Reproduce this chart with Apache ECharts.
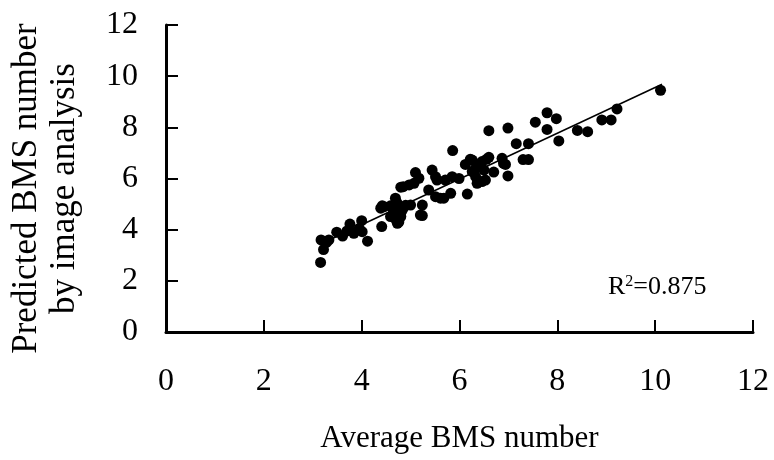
<!DOCTYPE html>
<html>
<head>
<meta charset="utf-8">
<script src="https://cdn.jsdelivr.net/npm/echarts@6/dist/echarts.min.js"></script>
<style>
  html, body { margin: 0; padding: 0; background: #fff; }
  #main { width: 774px; height: 460px; }
</style>
</head>
<body>
<div id="main"></div>
<script>
// 数据：平均BMS数 vs 图像分析预测值
var avgBms = [
  3.16, 3.22, 3.17, 3.33, 3.28, 3.49, 3.61, 3.76, 3.84, 4.00,
  4.01, 4.12, 3.95, 3.70, 4.41, 4.42, 4.46, 4.59, 4.73, 4.80,
  4.73, 4.59, 4.76, 4.69, 4.39, 4.80, 4.65, 4.85, 5.00, 5.20,
  5.24, 5.24, 4.83, 4.85, 4.80, 4.97, 5.07, 5.10, 5.17, 5.37,
  5.51, 5.61, 5.68, 5.82, 5.44, 5.51, 5.54, 5.71, 5.85, 5.99,
  5.86, 6.16, 6.12, 6.22, 6.26, 6.26, 6.33, 6.36, 6.46, 6.43,
  6.50, 6.60, 6.53, 6.70, 6.87, 6.90, 6.94, 6.99, 6.60, 6.99,
  7.16, 7.41, 7.30, 7.41, 7.55, 7.79, 7.98, 7.79, 8.03, 8.41,
  8.62, 8.91, 9.10, 9.22, 10.11, 6.33, 6.46, 4.70, 4.90, 6.55
];
var predBms = [
  2.72, 3.22, 3.60, 3.60, 3.50, 3.90, 3.75, 4.22, 3.86, 4.35,
  3.92, 3.55, 4.05, 3.95, 4.12, 4.93, 4.90, 4.93, 5.03, 4.64,
  4.25, 4.51, 4.30, 5.23, 4.84, 4.51, 4.75, 4.85, 4.96, 4.57,
  4.55, 4.96, 4.77, 5.68, 5.66, 5.75, 5.81, 6.23, 6.01, 5.55,
  5.29, 5.23, 5.23, 5.42, 6.33, 6.07, 5.94, 5.94, 6.07, 6.00,
  7.09, 5.39, 6.55, 6.75, 6.72, 6.27, 6.07, 5.81, 5.88, 6.59,
  6.33, 6.83, 5.94, 6.25, 6.79, 6.59, 6.55, 6.10, 7.87, 7.97,
  7.36, 7.36, 6.74, 6.74, 8.20, 8.57, 8.34, 7.92, 7.47, 7.88,
  7.83, 8.29, 8.29, 8.72, 9.45, 6.40, 6.66, 4.40, 4.95, 6.75
];
var axisTicks = [0, 2, 4, 6, 8, 10, 12];
var fitSlope = 0.895;     // 回归线
var fitIntercept = 0.61;
var fitRange = [3.16, 10.14];
var r2Text = '0.875';

var points = [];
for (var i = 0; i < avgBms.length; i++) {
  points.push([avgBms[i], predBms[i]]);
}
var fitLine = [
  [fitRange[0], fitIntercept + fitSlope * fitRange[0]],
  [fitRange[1], fitIntercept + fitSlope * fitRange[1]]
];

var fontFam = '"Liberation Serif", "DejaVu Serif", serif';

var myChart = echarts.init(document.getElementById('main'));
var option = {
  animation: false,
  backgroundColor: '#fff',
  grid: {
    left: 165,
    right: 21,
    top: 25,
    bottom: 128
  },
  xAxis: {
    type: 'value',
    min: axisTicks[0],
    max: axisTicks[axisTicks.length - 1],
    interval: 2,
    name: 'Average BMS number',
    nameLocation: 'middle',
    nameGap: 91,
    nameTextStyle: { color: '#000', fontFamily: fontFam, fontSize: 31 },
    axisLine: { lineStyle: { color: '#000', width: 3 } },
    axisTick: { inside: true, length: 12, lineStyle: { color: '#000', width: 2 } },
    axisLabel: { color: '#000', fontFamily: fontFam, fontSize: 32, margin: 34 },
    splitLine: { show: false }
  },
  yAxis: {
    type: 'value',
    min: axisTicks[0],
    max: axisTicks[axisTicks.length - 1],
    interval: 2,
    name: 'Predicted BMS number\nby image analysis',
    nameLocation: 'middle',
    nameGap: 82,
    nameTextStyle: {
      color: '#000', fontFamily: fontFam, fontSize: 35, lineHeight: 38,
      padding: [0, 20, 0, 0]
    },
    axisLine: { lineStyle: { color: '#000', width: 3 } },
    axisTick: { inside: true, length: 12, lineStyle: { color: '#000', width: 2 } },
    axisLabel: { color: '#000', fontFamily: fontFam, fontSize: 32, margin: 28 },
    splitLine: { show: false }
  },
  graphic: [{
    type: 'text',
    left: 608,
    top: 274,
    style: {
      text: '{a|R}{s|2}{a|=' + r2Text + '}',
      rich: {
        a: { fontFamily: fontFam, fontSize: 26, fill: '#000', verticalAlign: 'bottom' },
        s: { fontFamily: fontFam, fontSize: 16, fill: '#000', verticalAlign: 'top', padding: [0, 0, 9, 0] }
      }
    }
  }],
  series: [{
    type: 'scatter',
    data: points,
    symbol: 'circle',
    symbolSize: 11,
    itemStyle: { color: '#000', opacity: 1 },
    z: 3
  }, {
    type: 'line',
    data: fitLine,
    symbol: 'none',
    lineStyle: { color: '#000', width: 1.5 },
    z: 2
  }]
};
myChart.setOption(option);
</script>
</body>
</html>
